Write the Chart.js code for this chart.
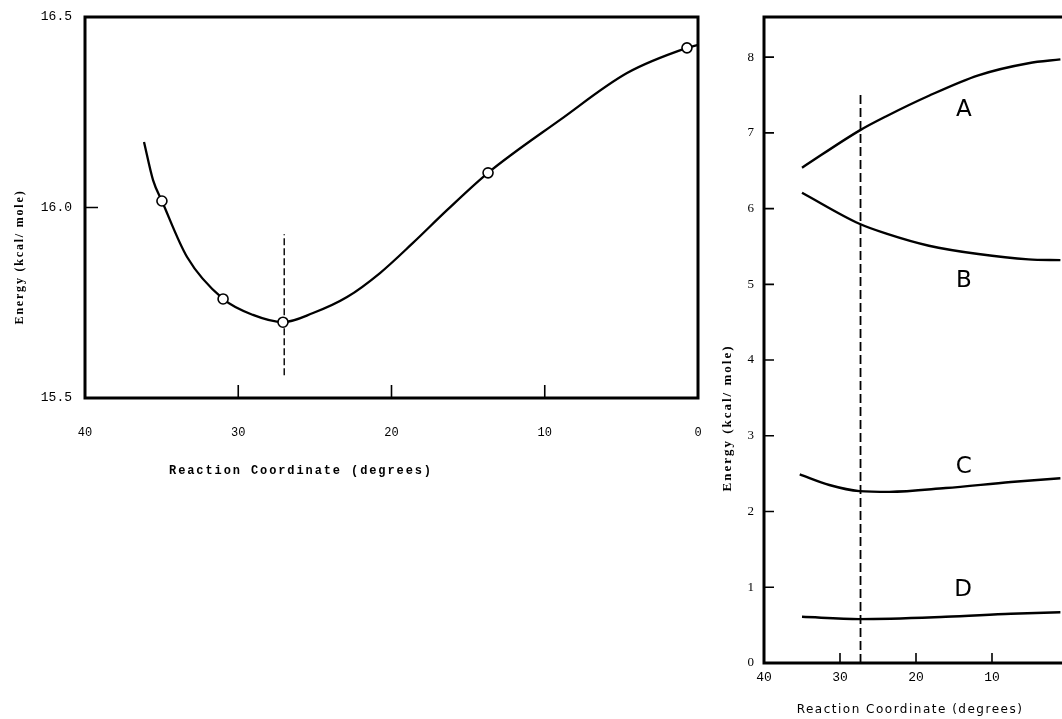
<!DOCTYPE html>
<html>
<head>
<meta charset="utf-8">
<script src="https://cdn.jsdelivr.net/npm/chart.js@4.4.1/dist/chart.umd.min.js"></script>
<style>
  html, body { margin: 0; padding: 0; background: #fff; overflow: hidden; width: 1062px; height: 719px; }
  #left-chart { position: absolute; left: 0; top: 0; }
  #right-chart { position: absolute; left: 700px; top: 0; }
</style>
</head>
<body>
<canvas id="left-chart" width="720" height="500"></canvas>
<canvas id="right-chart" width="420" height="719"></canvas>
<script>
// left panel: energy along the reaction coordinate
const leftCurveX = [36.15, 35.56, 34.98, 33.34, 30.99, 29.04, 27.08, 25.12, 22.90, 20.75, 18.60, 16.38, 13.70, 9.00, 4.63, 0.72, 0.0]
const leftCurveY = [16.172, 16.072, 16.017, 15.870, 15.760, 15.718, 15.699, 15.723, 15.765, 15.828, 15.907, 15.993, 16.091, 16.230, 16.353, 16.419, 16.427]
const leftPointX = [34.98, 30.99, 27.08, 13.70, 0.72]
const leftPointY = [16.017, 15.760, 15.699, 16.091, 16.419]
const leftDashX = [27.0, 27.0]
const leftDashY = [15.56, 15.93]
const leftXTicks = [40, 30, 20, 10, 0]
const leftYTicks = [15.5, 16.0, 16.5]

// right panel: curves A-D
const rightX = [35.0, 27.45, 23.9, 18.3, 11.8, 5.2, 1.0]
const curveA = [6.54, 7.03, 7.22, 7.49, 7.76, 7.92, 7.97]
const curveB = [6.21, 5.80, 5.67, 5.51, 5.40, 5.33, 5.32]
const rightXC = [35.3, 31.4, 27.45, 23.5, 16.1, 7.5, 1.0]
const curveC = [2.49, 2.35, 2.27, 2.26, 2.31, 2.39, 2.44]
const rightXD = [35.0, 27.45, 16.1, 7.5, 1.0]
const curveD = [0.61, 0.58, 0.61, 0.65, 0.67]
const rightDashX = [27.3, 27.3]
const rightDashY = [0, 7.5]
const rightXTicks = [40, 30, 20, 10, 0]
const rightYTicks = [0, 1, 2, 3, 4, 5, 6, 7, 8]
const curveNames = ["A", "B", "C", "D"]
const nameX = [13.7, 13.7, 13.7, 13.8]
const nameY = [7.30, 5.05, 2.59, 0.96]

const toPoints = (xs, ys) => xs.map((x, i) => ({ x: x, y: ys[i] }))

const frameAndText = {
    id: 'frameAndText',
    afterDatasetsDraw(chart, args, opts) {
        const ctx = chart.ctx
        const a = chart.chartArea
        const xs = chart.scales.x
        const ys = chart.scales.y
        ctx.save()
        ctx.strokeStyle = '#000'
        ctx.fillStyle = '#000'
        ctx.lineWidth = 1.6
        ctx.beginPath()
        opts.xTickMarks.forEach(v => {
            const px = xs.getPixelForValue(v)
            ctx.moveTo(px, a.bottom)
            ctx.lineTo(px, a.bottom - opts.tickLen)
        })
        opts.yTickMarks.forEach(v => {
            const py = ys.getPixelForValue(v)
            ctx.moveTo(a.left, py)
            ctx.lineTo(a.left + opts.tickLen, py)
        })
        ctx.stroke()
        ctx.lineWidth = 3
        ctx.strokeRect(a.left, a.top, a.right - a.left, a.bottom - a.top)

        // axis titles
        ctx.textAlign = 'center'
        ctx.textBaseline = 'middle'
        ctx.font = opts.xTitle.font
        ctx.letterSpacing = opts.xTitle.spacing
        ctx.fillText(opts.xTitle.text, opts.xTitle.x, opts.xTitle.y)
        ctx.save()
        ctx.translate(opts.yTitle.x, opts.yTitle.y)
        ctx.rotate(-Math.PI / 2)
        ctx.font = opts.yTitle.font
        ctx.letterSpacing = opts.yTitle.spacing
        ctx.fillText(opts.yTitle.text, 0, 0)
        ctx.restore()

        // curve names
        if (opts.names) {
            ctx.letterSpacing = '0px'
            ctx.font = '23px "DejaVu Sans"'
            opts.names.forEach((n, i) => {
                ctx.fillText(n, xs.getPixelForValue(opts.nameX[i]), ys.getPixelForValue(opts.nameY[i]))
            })
        }
        ctx.restore()
    }
}

function fixedTicks(values) {
    return (scale) => { scale.ticks = values.map(v => ({ value: v })) }
}

// keep the plot box where the layout padding puts it
function fitAxis(prop, size) {
    return (s) => {
        s[prop] = size
        s.paddingTop = 0
        s.paddingBottom = 0
        s.paddingLeft = 0
        s.paddingRight = 0
    }
}

new Chart(document.getElementById('left-chart'), {
    type: 'scatter',
    data: {
        datasets: [
            {
                data: toPoints(leftPointX, leftPointY),
                showLine: false,
                pointRadius: 5,
                pointBorderWidth: 1.6,
                pointBorderColor: '#000',
                pointBackgroundColor: '#fff'
            },
            {
                data: toPoints(leftCurveX, leftCurveY),
                showLine: true,
                borderColor: '#000',
                borderWidth: 2.3,
                pointRadius: 0,
                cubicInterpolationMode: 'monotone'
            },
            {
                data: toPoints(leftDashX, leftDashY),
                showLine: true,
                borderColor: '#000',
                borderWidth: 1.4,
                borderDash: [7, 3],
                pointRadius: 0
            }
        ]
    },
    options: {
        responsive: false,
        animation: false,
        layout: { padding: { top: 17, right: 22, bottom: 0, left: 0 } },
        plugins: {
            legend: { display: false },
            tooltip: { enabled: false },
            frameAndText: {
                tickLen: 13,
                xTickMarks: [30, 20, 10],
                yTickMarks: [16.0],
                xTitle: { text: 'Reaction Coordinate (degrees)', x: 301, y: 471, font: 'bold 12px "Liberation Mono"', spacing: '1.9px' },
                yTitle: { text: 'Energy (kcal/ mole)', x: 20, y: 257, font: 'bold 12px "Liberation Serif"', spacing: '1.8px' }
            }
        },
        scales: {
            x: {
                type: 'linear', reverse: true, min: 0, max: 40,
                afterBuildTicks: fixedTicks(leftXTicks),
                afterFit: fitAxis('height', 102),
                grid: { display: false },
                border: { display: false },
                ticks: { color: '#000', padding: 20, font: { family: 'Liberation Mono', size: 12 } }
            },
            y: {
                type: 'linear', min: 15.5, max: 16.5,
                afterBuildTicks: fixedTicks(leftYTicks),
                afterFit: fitAxis('width', 85),
                grid: { display: false },
                border: { display: false },
                ticks: { color: '#000', padding: 5, font: { family: 'Liberation Mono', size: 13 }, callback: (v) => v.toFixed(1) }
            }
        }
    },
    plugins: [frameAndText]
})

const lineStyle = { showLine: true, borderColor: '#000', borderWidth: 2.4, pointRadius: 0, cubicInterpolationMode: 'monotone' }

new Chart(document.getElementById('right-chart'), {
    type: 'scatter',
    data: {
        datasets: [
            { ...lineStyle, data: toPoints(rightX, curveA) },
            { ...lineStyle, data: toPoints(rightX, curveB) },
            { ...lineStyle, data: toPoints(rightXC, curveC) },
            { ...lineStyle, data: toPoints(rightXD, curveD) },
            {
                data: toPoints(rightDashX, rightDashY),
                showLine: true,
                borderColor: '#000',
                borderWidth: 1.8,
                borderDash: [9, 4],
                pointRadius: 0
            }
        ]
    },
    options: {
        responsive: false,
        animation: false,
        layout: { padding: { top: 17, right: 52, bottom: 0, left: 0 } },
        plugins: {
            legend: { display: false },
            tooltip: { enabled: false },
            frameAndText: {
                tickLen: 10,
                xTickMarks: [30, 20, 10],
                yTickMarks: [1, 2, 3, 4, 5, 6, 7, 8],
                xTitle: { text: 'Reaction Coordinate (degrees)', x: 210, y: 710, font: '12px "DejaVu Sans"', spacing: '1.5px' },
                yTitle: { text: 'Energy (kcal/ mole)', x: 28, y: 418, font: 'bold 13px "Liberation Serif"', spacing: '2px' },
                names: curveNames,
                nameX: nameX,
                nameY: nameY
            }
        },
        scales: {
            x: {
                type: 'linear', reverse: true, min: 0, max: 40,
                afterBuildTicks: fixedTicks(rightXTicks),
                afterFit: fitAxis('height', 56),
                grid: { display: false },
                border: { display: false },
                ticks: { color: '#000', padding: -1, font: { family: 'Liberation Mono', size: 13 } }
            },
            y: {
                type: 'linear', min: 0, max: 8.53,
                afterBuildTicks: fixedTicks(rightYTicks),
                afterFit: fitAxis('width', 64),
                grid: { display: false },
                border: { display: false },
                ticks: { color: '#000', padding: 2, font: { family: 'Liberation Serif', size: 13 } }
            }
        }
    },
    plugins: [frameAndText]
})
</script>
</body>
</html>
